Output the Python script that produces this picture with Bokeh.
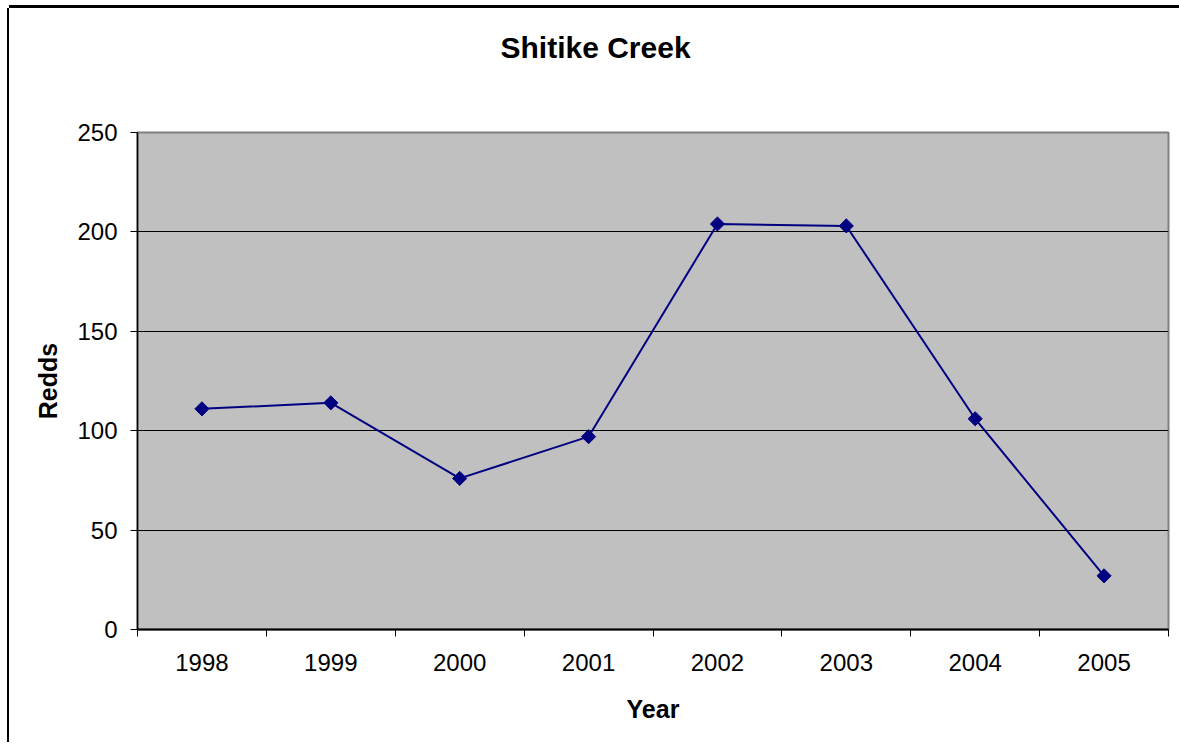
import math
from bokeh.plotting import figure
from bokeh.models import (FixedTicker, Range1d, ColumnDataSource, Title)
from bokeh.embed import file_html
from bokeh.resources import INLINE

years = ["1998", "1999", "2000", "2001", "2002", "2003", "2004", "2005"]
redds = [111, 114, 76, 97, 204, 203, 106, 27]
y_ticks = [0, 50, 100, 150, 200, 250]

xpos = [i + 0.5 for i in range(len(years))]
src = ColumnDataSource(dict(x=xpos, y=redds))

FONT = "Liberation Sans"
OX, OY = 9, 8  # canvas offset inside outer border
H = 752 - OY - 10
W = 1179 - OX + 8

FL, FT, FR, FB = 137, 132, 1168, 629  # frame edges in window pixels

p = figure(width=W, height=H, output_backend="svg", toolbar_location=None,
           x_range=Range1d(0, len(years)), y_range=Range1d(0, 250),
           min_border_left=FL - OX, min_border_right=W + OX - FR, min_border_top=FT - OY,
           min_border_bottom=H + OY - FB, background_fill_color="#C0C0C0",
           border_fill_color="white")
p.styles = {"position": "absolute", "left": f"{OX}px", "top": f"{OY}px",
            "box-shadow": "-2px 0px 0px 0px black, 0px -3px 0px 0px black"}

# spacer (nearest to frame), then the chart title above it
p.add_layout(Title(text=" ", text_font=FONT, text_font_size="60px", standoff=0), "above")
p.add_layout(Title(text="Shitike Creek", align="left", offset=500 - FL,
                   text_font=FONT, text_font_size="30px", text_font_style="bold",
                   text_color="black", standoff=0), "above")

p.outline_line_color = "#808080"
p.outline_line_width = 2

# x axis
p.xaxis.ticker = FixedTicker(ticks=xpos, minor_ticks=list(range(len(years) + 1)))
p.xaxis.major_label_overrides = {x: y for x, y in zip(xpos, years)}
p.xaxis.major_tick_out = 0
p.xaxis.major_tick_in = 0
p.xaxis.minor_tick_out = 7
p.xaxis.minor_tick_in = 0
p.xaxis.minor_tick_line_color = "black"
p.xaxis.axis_line_color = "black"
p.xaxis.axis_line_width = 2
p.xaxis.major_label_text_font = FONT
p.xaxis.major_label_text_font_size = "24px"
p.xaxis.major_label_text_color = "black"
p.xaxis.major_label_standoff = 17
p.xaxis.axis_label = "Year"
p.xaxis.axis_label_text_font = FONT
p.xaxis.axis_label_text_font_size = "25px"
p.xaxis.axis_label_text_font_style = "bold"
p.xaxis.axis_label_text_color = "black"
p.xaxis.axis_label_standoff = 21

# y axis
p.yaxis.ticker = FixedTicker(ticks=y_ticks, minor_ticks=[])
p.yaxis.major_tick_out = 7
p.yaxis.major_tick_in = 0
p.yaxis.major_tick_line_color = "black"
p.yaxis.axis_line_color = "black"
p.yaxis.axis_line_width = 1.5
p.yaxis.major_label_text_font = FONT
p.yaxis.major_label_text_font_size = "24px"
p.yaxis.major_label_text_color = "black"
p.yaxis.major_label_standoff = 13
p.yaxis.axis_label = "Redds"
p.yaxis.axis_label_text_font = FONT
p.yaxis.axis_label_text_font_size = "25px"
p.yaxis.axis_label_text_font_style = "bold"
p.yaxis.axis_label_text_color = "black"
p.yaxis.axis_label_standoff = 12

p.xgrid.visible = False
p.ygrid.ticker = FixedTicker(ticks=y_ticks[1:-1])
p.ygrid.grid_line_color = "black"
p.ygrid.grid_line_width = 1

p.line("x", "y", source=src, line_color="#000080", line_width=2)
p.scatter("x", "y", source=src, marker="square", angle=math.pi / 4, size=10,
          fill_color="#000080", line_color="#000080")

open("out.html", "w").write(file_html(p, INLINE))
